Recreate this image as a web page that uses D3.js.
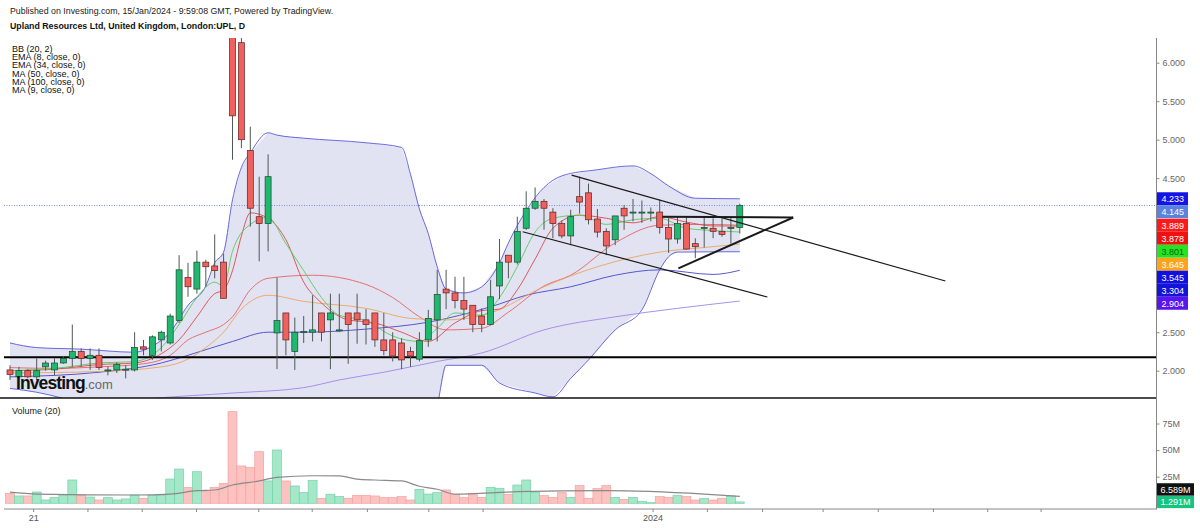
<!DOCTYPE html>
<html>
<head>
<meta charset="utf-8">
<script src="https://cdnjs.cloudflare.com/ajax/libs/d3/7.8.5/d3.min.js"></script>
<style>
  body { margin: 0; background: #fff; }
  svg { display: block; font-family: "Liberation Sans", Arial, sans-serif; }
</style>
</head>
<body>
<svg width="1200" height="528"></svg>
<script>
// candle data (daily, UPL), index 0 .. 82
const opens = [2.01,1.92,2.00,1.92,2.05,2.01,2.10,2.16,2.25,2.16, 2.20,2.00,2.01,2.01,2.01,2.31,2.20,2.40,2.36,2.65,
  3.21,3.06,3.41,3.36,3.41,6.60,6.26,4.86,4.00,3.91, 2.49,2.75,2.25,2.50,2.50,2.75,2.66,2.52,2.75,2.75,
  2.66,2.75,2.40,2.40,2.36,2.25,2.15,2.40,2.66,3.06, 3.01,2.91,2.85,2.71,2.60,3.10,3.50,3.41,3.85,4.11,
  4.20,4.06,3.91,3.75,4.26,4.31,3.97,3.81,3.70,4.11, 4.05,4.05,4.05,4.06,3.86,3.71,3.91,3.65,3.85,3.85,
  3.81,3.85,3.86];
const highs = [2.07,2.05,2.02,2.16,2.13,2.16,2.19,2.60,2.29,2.29, 2.29,2.05,2.11,2.07,2.50,2.40,2.46,2.52,2.74,3.50,
  3.40,3.56,3.44,3.77,3.52,6.80,6.32,5.17,4.52,4.81, 3.21,2.75,2.69,2.71,2.98,2.75,3.00,3.00,2.75,3.00,
  2.80,2.75,2.75,2.50,2.42,2.31,2.50,2.79,3.31,3.31, 3.22,3.22,2.85,2.81,3.18,3.71,3.50,4.00,4.33,4.38,
  4.23,4.11,3.95,4.09,4.52,4.43,4.10,3.85,4.01,4.15, 4.23,4.21,4.12,4.22,3.98,4.00,4.00,3.72,4.00,3.98,
  3.98,4.00,4.17];
const lows = [1.88,1.88,1.90,1.88,2.00,1.94,2.09,2.05,2.05,2.01, 2.01,1.94,1.97,1.90,1.99,2.20,2.14,2.25,2.34,2.62,
  2.96,3.00,3.10,3.20,2.94,4.74,4.89,3.87,3.42,3.55, 2.02,2.20,2.01,2.36,2.38,2.38,2.02,2.50,2.09,2.35,
  2.34,2.31,2.20,2.12,2.02,2.05,2.12,2.31,2.38,2.80, 2.81,2.66,2.50,2.50,2.59,2.93,3.20,3.38,3.83,4.09,
  3.83,3.72,3.72,3.63,4.04,3.90,3.73,3.50,3.63,3.83, 3.94,3.92,3.94,3.78,3.53,3.65,3.57,3.46,3.60,3.72,
  3.74,3.65,3.78];
const closes = [1.95,2.00,1.92,2.00,2.10,2.10,2.16,2.25,2.16,2.20, 2.04,2.01,2.08,2.02,2.30,2.28,2.44,2.50,2.71,3.31,
  3.09,3.41,3.35,3.30,2.94,5.31,5.00,4.11,3.91,4.52, 2.65,2.40,2.50,2.51,2.53,2.50,2.75,2.53,2.60,2.66,
  2.60,2.40,2.26,2.19,2.14,2.19,2.39,2.68,2.99,3.01, 2.91,2.80,2.60,2.60,2.96,3.41,3.41,3.81,4.11,4.20,
  4.11,3.91,3.75,4.00,4.19,3.96,3.80,3.62,4.01,4.01, 4.06,4.06,4.06,3.86,3.71,3.91,3.58,3.61,3.86,3.81,
  3.77,3.86,4.145];
// volume in millions
const volumes = [9.4,6.9,6.9,10.6,3.1,5.3,7.8,21.9,7.8,5.9, 3.1,5.3,3.1,4.1,7.8,4.7,7.2,7.2,22.8,32.2,
  15.0,29.7,10.9,15.0,18.8,86.1,35.1,33.8,48.5,21.0, 50.1,21.0,16.3,10.0,21.6,4.7,8.5,6.3,4.7,7.5,
  7.5,6.9,5.3,5.3,6.3,3.1,13.1,8.7,10.0,12.5, 8.7,5.3,9.4,5.6,15.0,14.1,8.5,17.2,21.9,10.3,
  7.2,5.6,10.0,5.6,16.6,4.7,13.8,16.6,5.6,3.7, 5.6,1.9,0.6,6.3,5.6,7.2,6.3,3.1,4.4,3.1,
  4.7,6.9,1.291];

// indicators: [candle index, value]
const bbUpper = [[0,2.36],[3,2.30],[8,2.28],[14,2.24],[16,2.32],[18,2.50],[20,2.85],[22,3.10],[23,3.40],[24,3.54],
  [25,4.22],[26,4.64],[27,4.83],[29,5.09],[30,5.06],[33,5.02],[40,4.96],[44,4.90],[45,4.55],[46,4.10],[47,3.78],
  [48,3.35],[49,3.06],[51,3.01],[53,3.09],[55,3.40],[56,3.66],[58,4.08],[60,4.38],[62,4.53],[66,4.61],[70,4.66],
  [72,4.56],[74,4.40],[77,4.24],[82,4.233]];
const bbLower = [[0,1.77],[3,1.72],[6,1.64],[10,1.50],[15,1.35],[20,1.0],[25,0.4],[30,0.0],[40,0.1],[45,0.6],
  [47,1.3],[48,1.55],[49,2.07],[53,2.07],[55,1.84],[59,1.71],[61,1.66],[63,1.90],[65,2.14],[68,2.53],[71,2.79],
  [73,3.31],[74,3.48],[75,3.54],[82,3.545]];
const bbBasis = [[0,2.04],[5,2.03],[10,2.05],[15,2.09],[18,2.20],[20,2.40],[22,2.50],[24,2.60],[25,2.70],[27,3.05],
  [29,3.20],[34,3.24],[40,3.12],[43,2.95],[46,2.70],[49,2.53],[53,2.55],[56,2.76],[60,3.10],[63,3.24],[68,3.66],
  [73,3.89],[78,3.90],[82,3.889]];
const ema8 = [[0,2.00],[5,2.03],[10,2.10],[14,2.12],[17,2.30],[19,2.60],[21,2.95],[23,3.15],[24,3.10],[25,3.55],
  [27,3.90],[29,3.99],[31,3.65],[33,3.30],[35,2.95],[37,2.72],[40,2.65],[43,2.45],[46,2.38],[48,2.55],[50,2.75],
  [53,2.72],[55,2.95],[57,3.35],[59,3.80],[61,3.98],[64,4.02],[67,3.90],[70,3.96],[73,3.98],[76,3.85],[79,3.82],[82,3.801]];
const ema34 = [[0,1.97],[10,1.99],[17,2.05],[20,2.15],[22,2.30],[24,2.50],[26,2.80],[29,2.98],[33,2.90],[40,2.81],
  [45,2.68],[49,2.66],[54,2.75],[60,3.09],[66,3.35],[73,3.54],[78,3.60],[82,3.645]];
const ma50 = [[0,1.92],[10,1.98],[17,2.10],[20,2.20],[25,2.38],[29,2.50],[33,2.50],[40,2.54],[47,2.63],[54,2.83],
  [58,2.98],[63,3.09],[68,3.24],[73,3.31],[79,3.25],[82,3.304]];
const ma100 = [[0,1.50],[10,1.57],[16,1.64],[25,1.71],[33,1.78],[37,1.88],[42,1.98],[48,2.12],[53,2.23],[60,2.53],
  [68,2.70],[75,2.81],[82,2.904]];
const ma9 = [[0,2.00],[5,2.02],[10,2.08],[14,2.10],[17,2.22],[19,2.40],[21,2.70],[23,3.00],[24,3.05],[25,3.30],
  [26,3.75],[27,4.05],[29,3.98],[31,3.70],[33,3.15],[35,2.88],[38,2.66],[41,2.62],[44,2.50],[47,2.38],[50,2.62],
  [53,2.78],[55,2.80],[57,3.05],[59,3.45],[61,3.85],[64,4.02],[67,3.98],[70,3.92],[73,4.00],[76,3.93],[79,3.88],[82,3.878]];
const volMa = [[0,10.5],[3,8.7],[14,7.8],[18,8.7],[21,11.9],[23,12.5],[25,17.2],[28,21.0],[30,24.4],[34,25.9],
  [37,25.7],[39,22.8],[41,21.9],[44,21.0],[46,16.0],[48,13.2],[50,8.5],[57,10.9],[67,11.9],[78,8.7],[82,6.589]];

// drawings (index, price)
const supportLevel = 2.175;
const channelTop = [[63.1,4.54],[105.1,3.165]];
const channelBottom = [[57.6,3.805],[85.1,2.957]];
const triangleTop = [[73.3,4.0],[88,3.99]];
const triangleBottom = [[75.1,3.33],[88,3.99]];

// axes
const priceTicks = [2, 2.5, 3, 3.5, 4, 4.5, 5, 5.5, 6];
const volTicks = [25, 50, 75];
const timeTicks = [2.6, 8.7, 14.8, 20.9, 27.9, 33.9, 40.1, 47, 53.1, 72.2, 78.3, 84.5, 91.3, 97.5, 103.7, 109.8, 115.8];
const timeLabels = ["21","","","","","","","","","2024","","","","","","",""];

// last value labels
const lastVals = [4.233, 4.145, 3.889, 3.878, 3.801, 3.645, 3.545, 3.304, 2.904];
const lastFill = ["#1414e6","#5c82e0","#ff1a1a","#f01010","#22e622","#ffa31a","#1010e0","#1414d8","#5a14f0"];
const lastInk = ["#fff","#fff","#fff","#fff","#1d5a1d","#fff","#fff","#fff","#fff"];
const volLast = [6.589, 1.291];
const volLastFill = ["#111","#17c47f"];

const legendLines = ["BB (20, 2)","EMA (8, close, 0)","EMA (34, close, 0)","MA (50, close, 0)","MA (100, close, 0)","MA (9, close, 0)"];

// ----- setup
const svg = d3.select("svg");
const paneL = 4, paneR = 1156.5, priceTop = 38, priceBot = 398, volBot = 508.5;

const x = d3.scaleLinear().domain([0, 82]).range([10, 739.8]);
const y = d3.scaleLinear().domain([2, 6]).range([370.7, 62.7]);
const yv = d3.scaleLinear().domain([0, 100]).range([503.3, 396.9]);

svg.append("rect").attr("width", 1200).attr("height", 528).attr("fill", "#fff");

const defs = svg.append("defs");
defs.append("clipPath").attr("id", "priceClip").append("rect")
  .attr("x", paneL).attr("y", priceTop).attr("width", paneR - paneL).attr("height", priceBot - priceTop);
defs.append("clipPath").attr("id", "volClip").append("rect")
  .attr("x", paneL).attr("y", priceBot).attr("width", paneR - paneL).attr("height", volBot - priceBot);

// header
svg.append("text").attr("x", 10).attr("y", 14).attr("font-size", 8.8).attr("fill", "#222")
  .text("Published on Investing.com, 15/Jan/2024 - 9:59:08 GMT, Powered by TradingView.");
svg.append("text").attr("x", 10).attr("y", 28.5).attr("font-size", 8.8).attr("font-weight", "bold").attr("fill", "#111")
  .text("Upland Resources Ltd, United Kingdom, London:UPL, D");

// ----- price pane
const price = svg.append("g").attr("clip-path", "url(#priceClip)");
const line = d3.line().x(d => x(d[0])).y(d => y(d[1])).curve(d3.curveMonotoneX);

// bollinger fill
const bandPts = bbUpper.concat(bbLower.slice().reverse());
price.append("path")
  .attr("d", d3.line().x(d => x(d[0])).y(d => y(d[1])).curve(d3.curveLinearClosed)(bandPts))
  .attr("fill", "#e2e3f2");

const lineDefs = [
  [bbUpper, "#5a5ad8"], [bbLower, "#5a5ad8"], [ma100, "#9c86ea"], [ma50, "#4646cc"],
  [bbBasis, "#e36464"], [ema34, "#eba55e"], [ma9, "#e04848"], [ema8, "#55cc5a"]
];
lineDefs.forEach(([pts, c]) => {
  price.append("path").attr("d", line(pts)).attr("fill", "none")
    .attr("stroke", c).attr("stroke-width", 1).attr("opacity", 0.9);
});

// last close dotted line
price.append("line").attr("x1", paneL).attr("x2", paneR)
  .attr("y1", y(4.145)).attr("y2", y(4.145))
  .attr("stroke", "#7d8fd6").attr("stroke-width", 1).attr("stroke-dasharray", "1,1.5");

// support
price.append("line").attr("x1", 0).attr("x2", paneR)
  .attr("y1", y(supportLevel)).attr("y2", y(supportLevel))
  .attr("stroke", "#000").attr("stroke-width", 2.2);

// candles
const candles = price.append("g");
d3.range(opens.length).forEach(i => {
  const up = closes[i] >= opens[i];
  const g = candles.append("g");
  g.append("line").attr("x1", x(i)).attr("x2", x(i))
    .attr("y1", y(highs[i])).attr("y2", y(lows[i]))
    .attr("stroke", "#4d5a52").attr("stroke-width", 1);
  const top = y(Math.max(opens[i], closes[i])), bot = y(Math.min(opens[i], closes[i]));
  g.append("rect").attr("x", x(i) - 3).attr("width", 6)
    .attr("y", top).attr("height", Math.max(1, bot - top))
    .attr("fill", up ? "#1fb86e" : "#f0605c")
    .attr("stroke", up ? "#1d4630" : "#5c2222").attr("stroke-width", 0.7);
});

// trend drawings
const straight = d3.line().x(d => x(d[0])).y(d => y(d[1]));
[[channelTop, 1.2], [channelBottom, 1.2], [triangleTop, 2], [triangleBottom, 2]].forEach(([pts, w]) => {
  price.append("path").attr("d", straight(pts)).attr("fill", "none")
    .attr("stroke", "#1a1a1a").attr("stroke-width", w);
});

// watermark
const wm = svg.append("text").attr("x", 16).attr("y", 389);
wm.append("tspan").attr("font-size", 17.5).attr("font-weight", "bold").attr("letter-spacing", -0.9)
  .attr("fill", "#111").text("Investing");
wm.append("tspan").attr("font-size", 13).attr("fill", "#666").text(".com");

// legend
svg.append("g").selectAll("text").data(legendLines).join("text")
  .attr("x", 12).attr("y", (d, i) => 51.5 + i * 8.35)
  .attr("font-size", 9).attr("fill", "#111").text(d => d);

// pane separators
svg.append("line").attr("x1", 0).attr("x2", paneR).attr("y1", priceBot).attr("y2", priceBot)
  .attr("stroke", "#111").attr("stroke-width", 1.6);
svg.append("line").attr("x1", paneR).attr("x2", paneR).attr("y1", priceTop).attr("y2", volBot + 1)
  .attr("stroke", "#888").attr("stroke-width", 1);

// last value label positions (stacked downward)
const labelYs = [];
lastVals.forEach((v, i) => {
  const prev = i ? labelYs[i - 1] : -Infinity;
  labelYs.push(Math.max(y(v), prev + 13));
});
const stackTop = d3.min(labelYs) - 6.5, stackBot = d3.max(labelYs) + 6.5;

// price axis (ticks hidden behind the label stack are skipped)
const shownTicks = priceTicks.filter(t => y(t) < stackTop - 4 || y(t) > stackBot + 4);
const pAxis = svg.append("g").attr("transform", `translate(${paneR},0)`)
  .call(d3.axisRight(y).tickValues(shownTicks).tickSize(3).tickPadding(3).tickFormat(d3.format(".3f")));
pAxis.select(".domain").remove();
pAxis.selectAll("line").attr("stroke", "#888");
pAxis.selectAll("text").attr("font-size", 9).attr("fill", "#666").attr("font-family", "Liberation Sans, Arial, sans-serif");

const lab = svg.append("g");
lastVals.forEach((v, i) => {
  const cy = labelYs[i];
  lab.append("rect").attr("x", paneR + 0.5).attr("y", cy - 6.5).attr("width", 31).attr("height", 13)
    .attr("fill", lastFill[i]);
  lab.append("text").attr("x", paneR + 5).attr("y", cy + 3.3).attr("font-size", 9)
    .attr("fill", lastInk[i]).text(d3.format(".3f")(v));
});

// ----- volume pane
const vol = svg.append("g").attr("clip-path", "url(#volClip)");
vol.selectAll("rect").data(volumes).join("rect")
  .attr("x", (d, i) => x(i) - 4.45).attr("width", 8.9)
  .attr("y", d => yv(d)).attr("height", d => yv(0) - yv(d))
  .attr("fill", (d, i) => closes[i] >= opens[i] ? "#a4e8c9" : "#fbc2c0")
  .attr("stroke", (d, i) => closes[i] >= opens[i] ? "#74d2a6" : "#f2a3a0")
  .attr("stroke-width", 0.7);
vol.append("path").attr("d", d3.line().x(d => x(d[0])).y(d => yv(d[1])).curve(d3.curveMonotoneX)(volMa))
  .attr("fill", "none").attr("stroke", "#8a8a8a").attr("stroke-width", 1.2);

svg.append("text").attr("x", 12).attr("y", 414).attr("font-size", 9).attr("fill", "#222").text("Volume (20)");

const vAxis = svg.append("g").attr("transform", `translate(${paneR},0)`)
  .call(d3.axisRight(yv).tickValues(volTicks).tickSize(3).tickPadding(3).tickFormat(d => d + "M"));
vAxis.select(".domain").remove();
vAxis.selectAll("line").attr("stroke", "#888");
vAxis.selectAll("text").attr("font-size", 9).attr("fill", "#666").attr("font-family", "Liberation Sans, Arial, sans-serif");

// volume last labels (stacked upward from the lowest)
let prevV = Infinity;
const order = d3.range(volLast.length).sort((a, b) => volLast[a] - volLast[b]);
order.forEach(i => {
  const cy = Math.min(yv(volLast[i]), prevV - 12.5);
  prevV = cy;
  svg.append("rect").attr("x", paneR + 0.5).attr("y", cy - 6.2).attr("width", 37).attr("height", 12.4)
    .attr("fill", volLastFill[i]);
  svg.append("text").attr("x", paneR + 4).attr("y", cy + 3.2).attr("font-size", 9)
    .attr("fill", "#fff").text(volLast[i].toFixed(3) + "M");
});

// ----- time axis
svg.append("line").attr("x1", paneL).attr("x2", paneR).attr("y1", volBot + 0.5).attr("y2", volBot + 0.5)
  .attr("stroke", "#888");
const tAxis = svg.append("g").attr("transform", `translate(0,${volBot + 0.5})`)
  .call(d3.axisBottom(x).tickValues(timeTicks).tickSize(3).tickPadding(3).tickFormat((d, i) => timeLabels[i]));
tAxis.select(".domain").remove();
tAxis.selectAll("line").attr("stroke", "#888");
tAxis.selectAll("text").attr("font-size", 9).attr("fill", "#555").attr("font-family", "Liberation Sans, Arial, sans-serif");
</script>
</body>
</html>
